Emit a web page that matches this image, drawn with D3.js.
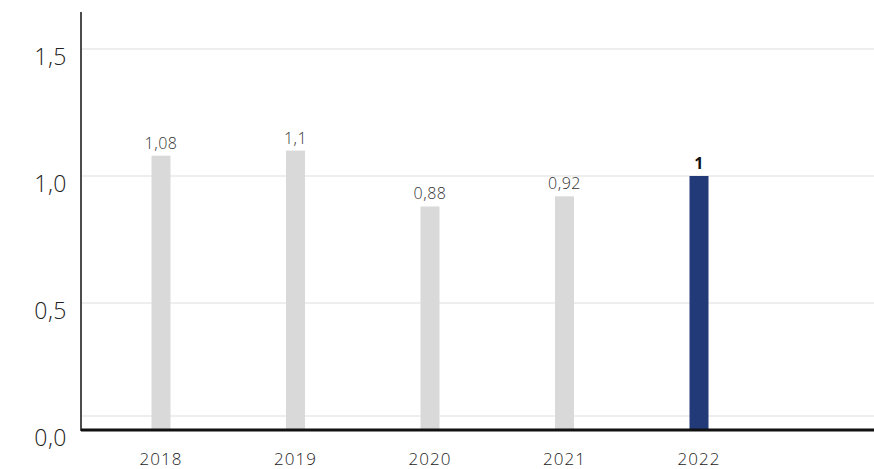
<!DOCTYPE html>
<html>
<head>
<meta charset="utf-8">
<script src="https://cdn.jsdelivr.net/npm/d3@7"></script>
<style>
  html, body { margin: 0; padding: 0; background: #fff; }
  svg { display: block; }
  text { font-family: "Open Sans", "Noto Sans", sans-serif; }
</style>
</head>
<body>
<svg id="chart" width="874" height="469"></svg>
<script>
// Annual values; the latest year is highlighted
const years = ["2018", "2019", "2020", "2021", "2022"];
const values = [1.08, 1.1, 0.88, 0.92, 1];
const highlightYear = "2022";
const yTicks = [0, 0.5, 1.0, 1.5];
const yTickLabels = ["0,0", "0,5", "1,0", "1,5"];

const plot = { left: 81, right: 874, top: 12 };
const svg = d3.select("#chart");

const y = d3.scaleLinear().domain([0, 1.5]).range([430, 49]);
const x = d3.scalePoint().domain(years).range([161, 699]);

const fmt = v => String(v).replace(".", ",");

// horizontal grid
svg.append("g").selectAll("line").data(yTicks.filter(t => t > 0)).join("line")
  .attr("x1", plot.left + 1).attr("x2", plot.right)
  .attr("y1", d => y(d)).attr("y2", d => y(d))
  .attr("stroke", "#e9e9e9").attr("stroke-width", 1.5);
// thin floor line just above the baseline
svg.append("line")
  .attr("x1", plot.left + 1).attr("x2", plot.right)
  .attr("y1", y(0) - 14).attr("y2", y(0) - 14)
  .attr("stroke", "#e9e9e9").attr("stroke-width", 1.5);

// y tick labels
svg.append("g").selectAll("text").data(yTicks).join("text")
  .attr("x", 67).attr("y", d => y(d) + 16)
  .attr("text-anchor", "end")
  .attr("font-size", 23).attr("font-weight", 300).attr("fill", "#222")
  .attr("letter-spacing", 0.5)
  .text((d, i) => yTickLabels[i]);

// bars
const barW = 19;
svg.append("g").selectAll("rect").data(years).join("rect")
  .attr("x", d => x(d) - barW / 2)
  .attr("width", barW)
  .attr("y", (d, i) => y(values[i]))
  .attr("height", (d, i) => y(0) - y(values[i]))
  .attr("fill", d => d === highlightYear ? "#233a78" : "#d9d9d9");

// value labels
svg.append("g").selectAll("text").data(years).join("text")
  .attr("x", d => x(d))
  .attr("y", (d, i) => y(values[i]) - 7)
  .attr("text-anchor", "middle")
  .attr("font-size", 16)
  .attr("letter-spacing", 0.5)
  .attr("font-weight", d => d === highlightYear ? 700 : 300)
  .attr("fill", d => d === highlightYear ? "#111" : "#333")
  .text((d, i) => fmt(values[i]));

// x labels
svg.append("g").selectAll("text").data(years).join("text")
  .attr("x", d => x(d)).attr("y", 465)
  .attr("text-anchor", "middle")
  .attr("font-size", 17).attr("font-weight", 300).attr("fill", "#222")
  .attr("letter-spacing", 1)
  .text(d => d);

// axes
svg.append("line").attr("x1", plot.left).attr("x2", plot.left).attr("y1", plot.top).attr("y2", y(0) + 1)
  .attr("stroke", "#111").attr("stroke-width", 1.5);
svg.append("line").attr("x1", plot.left).attr("x2", plot.right).attr("y1", y(0)).attr("y2", y(0))
  .attr("stroke", "#111").attr("stroke-width", 3);
</script>
</body>
</html>
